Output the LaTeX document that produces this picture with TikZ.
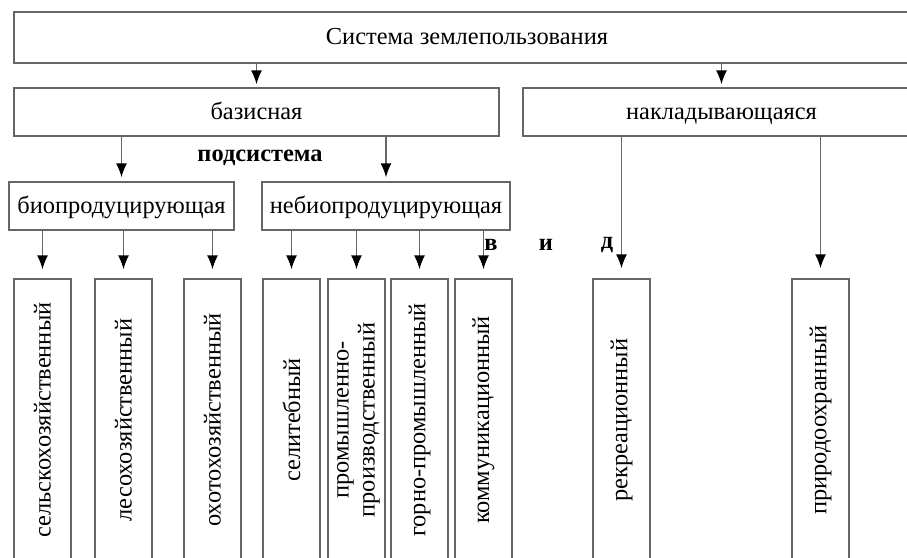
\documentclass[tikz,border=0pt]{standalone}
\usepackage{fontspec}
\setmainfont{Liberation Serif}
\usetikzlibrary{arrows.meta}

\begin{document}
\begin{tikzpicture}[
    x=0.5pt, y=-0.5pt,
    box/.style={rectangle, draw=black!60, line width=0.7pt, inner sep=1pt, align=center, font=\fontsize{12.2}{13}\selectfont},
    hbox/.style={box, text height=1.75ex, text depth=0.15ex},
    vbox/.style={box, minimum width=28.5pt, minimum height=141pt},
    lbl/.style={font=\fontsize{12.2}{13}\selectfont\bfseries},
    arrow/.style={draw=black!60, line width=0.7pt, -{Latex[black, length=7pt, width=5.5pt]}}
]
\clip (0,0) rectangle (907,558);

% Top: the whole system
\node[hbox, minimum width=453pt, minimum height=25.5pt] (sys) at (467,37.5) {Система землепользования};

% Second row: two subsystems
\node[hbox, minimum width=242.5pt, minimum height=24pt] (base) at (256.5,112) {базисная};
\node[hbox, minimum width=198.5pt, minimum height=24pt] (over) at (721.5,112) {накладывающаяся};
\node[lbl] (sub) at (260,158) {подсистема};

% Third row
\node[hbox, minimum width=112.5pt, minimum height=24pt] (bio) at (121.5,206) {биопродуцирующая};
\node[hbox, minimum width=124pt, minimum height=24pt] (nonbio) at (386,206) {небиопродуцирующая};

% Bottom row: kinds of land use
\node[vbox] (agri) at (42.5,420) {\rotatebox{90}{сельскохозяйственный}};
\node[vbox] (forest) at (123.5,420) {\rotatebox{90}{лесохозяйственный}};
\node[vbox] (hunt) at (212.5,420) {\rotatebox{90}{охотохозяйственный}};
\node[vbox] (settle) at (291.5,420) {\rotatebox{90}{селитебный}};
\node[vbox] (indust) at (356.5,420) {\rotatebox{90}{\begin{tabular}{@{}c@{}}промышленно-\\производственный\end{tabular}}};
\node[vbox] (mining) at (419.5,420) {\rotatebox{90}{горно-промышленный}};
\node[vbox] (comm) at (483.5,420) {\rotatebox{90}{коммуникационный}};
\node[vbox] (recr) at (621.5,420) {\rotatebox{90}{рекреационный}};
\node[vbox] (nature) at (820.5,420) {\rotatebox{90}{природоохранный}};

% spaced word
\node[lbl] (v) at (491,245) {в};
\node[lbl] (i) at (546,245) {и};
\node[lbl] (d) at (607,245) {д};

% Arrows - top
\draw[arrow, shorten >=1.5pt] (sys.south -| base.north) -- (base.north);
\draw[arrow, shorten >=1.5pt] (sys.south -| over.north) -- (over.north);

% Arrows - basic subsystem
\draw[arrow, shorten >=2pt] (base.south -| bio.north) -- (bio.north);
\draw[arrow, shorten >=2pt] (base.south -| nonbio.north) -- (nonbio.north);

% Arrows - to the kinds
\foreach \k in {agri, forest, hunt}
    \draw[arrow, shorten >=4.5pt] (bio.south -| \k.north) -- (\k.north);
\foreach \k in {settle, indust, mining, comm}
    \draw[arrow, shorten >=4.5pt] (nonbio.south -| \k.north) -- (\k.north);
\foreach \k in {recr, nature}
    \draw[arrow, shorten >=5pt] (over.south -| \k.north) -- (\k.north);

\end{tikzpicture}
\end{document}
